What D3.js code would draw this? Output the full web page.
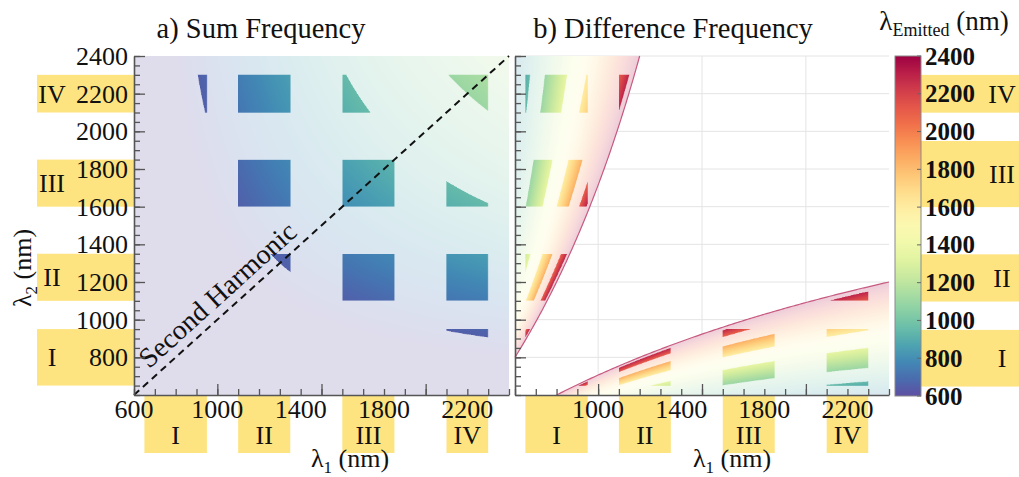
<!DOCTYPE html>
<html><head><meta charset="utf-8">
<script src="https://cdn.jsdelivr.net/npm/d3@7"></script>
<style>
body{margin:0;background:#fff}
svg{display:block}
text{font-family:"Liberation Serif","Times New Roman",serif;fill:#111}
</style>
</head><body>
<svg id="chart" width="1019" height="477"></svg>
<script>
// ---------- data ----------
const lambdaDomain = [600, 2400];
const bandNames = ["I", "II", "III", "IV"];
const bandLo = [650, 1100, 1600, 2100];
const bandHi = [950, 1350, 1850, 2300];
const cbarBandLo = [650, 1100, 1600, 2100];
const cbarBandHi = [950, 1350, 1950, 2300];
const xTickLabelsA = [600, 1000, 1400, 1800, 2200];
const xTickLabelsB = [1000, 1400, 1800, 2200];
const yTickLabels = [800, 1000, 1200, 1400, 1600, 1800, 2000, 2200, 2400];
const cbarTicks = [600, 800, 1000, 1200, 1400, 1600, 1800, 2000, 2200, 2400];
const xMajorTicks = [1000, 1500, 2000];
const xMinorTicks = d3.range(600, 2401, 100);
const yMajorTicks = [800, 1000, 1200, 1400, 1600, 1800, 2000, 2200, 2400];
const yMinorTicks = d3.range(600, 2401, 50);
const titles = ["a) Sum Frequency", "b) Difference Frequency"];

// ---------- scales ----------
const svg = d3.select("#chart");
const xA = d3.scaleLinear().domain(lambdaDomain).range([134, 509]);
const xB = d3.scaleLinear().domain(lambdaDomain).range([515, 889]);
const y = d3.scaleLinear().domain(lambdaDomain).range([395, 56]);
const cy = d3.scaleLinear().domain(lambdaDomain).range([396, 56]);
const color = d3.scaleSequential(t => d3.interpolateSpectral(1 - t)).domain(lambdaDomain).clamp(true);
const yellow = "#fee480";
const axisColor = "#555";

// colour lookup table (per nm)
const lut = d3.range(600, 2401).map(v => d3.rgb(color(v)));
function col(v){ const k = Math.max(0, Math.min(1800, Math.round(v - 600))); return lut[k]; }
function inBand(v){ for (let k = 0; k < bandLo.length; k++) if (v >= bandLo[k] && v <= bandHi[k]) return true; return false; }

function raster(xs, mode){
  const [x0, x1] = xs.range(), [yb, yt] = y.range();
  const W = Math.round(x1 - x0), H = Math.round(yb - yt), S = 3;
  const cv = document.createElement("canvas"); cv.width = W * S; cv.height = H * S;
  const ctx = cv.getContext("2d"); const img = ctx.createImageData(W * S, H * S); const d = img.data;
  for (let j = 0; j < H * S; j++){
    const l2 = y.invert(yt + (j + 0.5) / S);
    for (let i = 0; i < W * S; i++){
      const l1 = xs.invert(x0 + (i + 0.5) / S);
      const em = mode === "sum" ? l1 * l2 / (l1 + l2) : l1 * l2 / Math.abs(l2 - l1);
      const p = (j * W * S + i) * 4;
      if (mode === "diff" && !(em <= 2400)) { d[p+3] = 0; continue; }
      const c = col(em);
      const a = (inBand(l1) && inBand(l2) && inBand(em)) ? 1 : 0.2;
      d[p] = 255 - a * (255 - c.r); d[p+1] = 255 - a * (255 - c.g); d[p+2] = 255 - a * (255 - c.b); d[p+3] = 255;
    }
  }
  ctx.putImageData(img, 0, 0);
  svg.append("image").attr("x", x0).attr("y", yt).attr("width", W).attr("height", H)
    .attr("preserveAspectRatio", "none").attr("href", cv.toDataURL());
}

// ---------- gridlines (panel b) ----------
const grid = svg.append("g").attr("stroke", "#e4e4e4").attr("stroke-width", 1);
grid.selectAll(".gx").data(xMajorTicks).join("line")
  .attr("x1", d => xB(d)).attr("x2", d => xB(d)).attr("y1", y(2400)).attr("y2", y(600));
grid.selectAll(".gy").data(yMajorTicks).join("line")
  .attr("x1", xB(600)).attr("x2", xB(2400)).attr("y1", d => y(d)).attr("y2", d => y(d));

// ---------- rasters ----------
raster(xA, "sum");
raster(xB, "diff");

// boundary of emitted <= 2400 in panel b
const upper = d3.range(600, 1200.01, 5).map(l1 => [l1, 2400 * l1 / (2400 - l1)]);
const lower = d3.range(800, 2400.01, 10).map(l1 => [l1, 2400 * l1 / (2400 + l1)]);
const lineB = d3.line().x(d => xB(d[0])).y(d => y(Math.min(2400, d[1])));
[upper, lower].forEach(pts => svg.append("path").attr("d", lineB(pts)).attr("fill", "none")
  .attr("stroke", "#c85a80").attr("stroke-width", 1.2));

// second harmonic
const lineA = d3.line().x(d => xA(d[0])).y(d => y(d[1]));
svg.append("path").attr("d", lineA([[600, 600], [2400, 2400]])).attr("fill", "none")
  .attr("stroke", "#111").attr("stroke-width", 2).attr("stroke-dasharray", "7,5");
const ang = Math.atan2(y(2400) - y(600), xA(2400) - xA(600)) * 180 / Math.PI;
svg.append("text").attr("transform", `translate(${xA(1060)},${y(1060)}) rotate(${ang})`)
  .attr("y", -9).attr("text-anchor", "middle").attr("font-size", 28).text("Second Harmonic");

// ---------- yellow band boxes ----------
const bands = bandNames.map((n, k) => ({n, lo: bandLo[k], hi: bandHi[k], clo: cbarBandLo[k], chi: cbarBandHi[k]}));
// left y
svg.selectAll(".by").data(bands).join("rect").attr("fill", yellow)
  .attr("x", 37).attr("width", xA(600) - 37).attr("y", d => y(d.hi)).attr("height", d => y(d.lo) - y(d.hi));
// bottom x (both panels)
[xA, xB].forEach(xs => svg.append("g").selectAll("rect").data(bands).join("rect").attr("fill", yellow)
  .attr("x", d => xs(d.lo)).attr("width", d => xs(d.hi) - xs(d.lo)).attr("y", 395).attr("height", 58));
// colorbar side
svg.selectAll(".bc").data(bands).join("rect").attr("fill", yellow)
  .attr("x", 921).attr("width", 98).attr("y", d => cy(d.chi)).attr("height", d => cy(d.clo) - cy(d.chi));

// ---------- axes ----------
function drawAxes(xs){
  const g = svg.append("g");
  const bottom = g.append("g").attr("transform", `translate(0,${y(600)})`);
  bottom.call(d3.axisBottom(xs).tickValues(xMinorTicks).tickSize(-6).tickSizeOuter(0).tickFormat(""));
  bottom.append("g").call(d3.axisBottom(xs).tickValues(xMajorTicks).tickSize(-11).tickSizeOuter(0).tickFormat(""))
    .select(".domain").remove();
  const left = g.append("g").attr("transform", `translate(${xs(600)},0)`);
  left.call(d3.axisLeft(y).tickValues(yMinorTicks).tickSize(-6).tickSizeOuter(0).tickFormat(""));
  left.append("g").call(d3.axisLeft(y).tickValues(yMajorTicks).tickSize(-11).tickSizeOuter(0).tickFormat(""))
    .select(".domain").remove();
  g.selectAll("path.domain").attr("stroke", axisColor).attr("stroke-width", 1.6);
  g.selectAll(".tick line").attr("stroke", axisColor).attr("stroke-width", 1.3);
}
drawAxes(xA);
drawAxes(xB);

// tick labels
svg.append("g").selectAll("text").data(xTickLabelsA).join("text")
  .attr("x", d => xA(d)).attr("y", 418).attr("text-anchor", "middle").attr("font-size", 26).text(d => d);
svg.append("g").selectAll("text").data(xTickLabelsB).join("text")
  .attr("x", d => xB(d)).attr("y", 418).attr("text-anchor", "middle").attr("font-size", 26).text(d => d);
svg.append("g").selectAll("text").data(yTickLabels).join("text")
  .attr("x", 128).attr("y", d => y(d)).attr("dy", "0.34em").attr("text-anchor", "end").attr("font-size", 26).text(d => d);

// roman numerals
svg.append("g").selectAll("text").data(bands).join("text")
  .attr("x", 52).attr("y", d => (y(d.lo) + y(d.hi)) / 2).attr("dy", "0.34em").attr("text-anchor", "middle").attr("font-size", 26).text(d => d.n);
[xA, xB].forEach(xs => svg.append("g").selectAll("text").data(bands).join("text")
  .attr("x", d => (xs(d.lo) + xs(d.hi)) / 2).attr("y", 444).attr("text-anchor", "middle").attr("font-size", 26).text(d => d.n));
svg.append("g").selectAll("text").data(bands).join("text")
  .attr("x", 1002).attr("y", d => (cy(d.clo) + cy(d.chi)) / 2).attr("dy", "0.34em").attr("text-anchor", "middle").attr("font-size", 26).text(d => d.n);

// titles
svg.append("text").attr("x", 261).attr("y", 38).attr("text-anchor", "middle").attr("font-size", 28.5).text(titles[0]);
svg.append("text").attr("x", 673).attr("y", 38).attr("text-anchor", "middle").attr("font-size", 28.5).text(titles[1]);

// axis labels
function lamLabel(sel, sub){
  sel.append("tspan").text("λ");
  sel.append("tspan").attr("dy", 6).attr("font-size", 17).text(sub);
  sel.append("tspan").attr("dy", -6).text(" (nm)");
}
lamLabel(svg.append("text").attr("x", 350).attr("y", 467).attr("text-anchor", "middle").attr("font-size", 26), "1");
lamLabel(svg.append("text").attr("x", 732).attr("y", 467).attr("text-anchor", "middle").attr("font-size", 26), "1");
lamLabel(svg.append("text").attr("transform", "translate(31,268) rotate(-90)").attr("text-anchor", "middle").attr("font-size", 26), "2");

// ---------- colorbar ----------
const defs = svg.append("defs");
const grad = defs.append("linearGradient").attr("id", "cbar").attr("x1", 0).attr("x2", 0).attr("y1", 1).attr("y2", 0);
grad.selectAll("stop").data(d3.range(0, 1.0001, 0.05)).join("stop")
  .attr("offset", d => d).attr("stop-color", d => color(600 + d * 1800));
svg.append("rect").attr("x", 895).attr("y", cy(2400)).attr("width", 26).attr("height", cy(600) - cy(2400))
  .attr("fill", "url(#cbar)").attr("stroke", "#8a8a8a").attr("stroke-width", 1);
svg.append("g").selectAll("line").data(cbarTicks).join("line")
  .attr("x1", 917).attr("x2", 921).attr("y1", d => cy(d)).attr("y2", d => cy(d)).attr("stroke", "#666");
svg.append("g").selectAll("text").data(cbarTicks).join("text")
  .attr("x", 925).attr("y", d => cy(d)).attr("dy", "0.34em").attr("font-size", 25).attr("font-weight", "bold").text(d => d);
const ct = svg.append("text").attr("x", 944).attr("y", 30).attr("text-anchor", "middle").attr("font-size", 27);
ct.append("tspan").text("λ");
ct.append("tspan").attr("dy", 6).attr("font-size", 18).text("Emitted");
ct.append("tspan").attr("dy", -6).text(" (nm)");
</script>
</body></html>
